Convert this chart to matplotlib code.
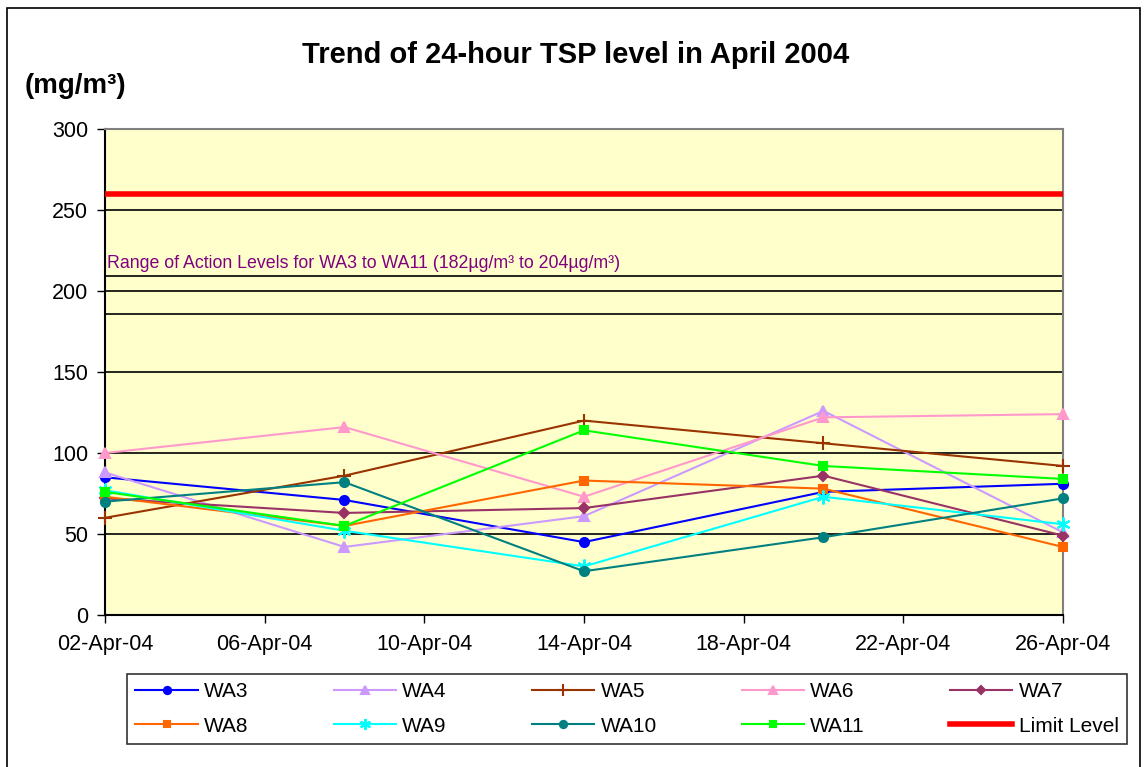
import matplotlib
matplotlib.use('Agg')
import matplotlib.pyplot as plt
import matplotlib.dates as mdates
import matplotlib.patches as patches
import numpy as np
import pandas as pd

plt.rcParams['font.family'] = ['Liberation Sans', 'DejaVu Sans']

# datos
fechas = pd.to_datetime(['2004-04-02', '2004-04-08', '2004-04-14', '2004-04-20', '2004-04-26'])
wa3 = [85, 71, 45, 76, 81]
wa4 = [88, 42, 61, 126, 51]
wa5 = [60, 86, 120, 106, 92]
wa6 = [100, 116, 73, 122, 124]
wa7 = [72, 63, 66, 86, 49]
wa8 = [73, 55, 83, 78, 42]
wa9 = [77, 52, 30, 73, 56]
wa10 = [70, 82, 27, 48, 72]
wa11 = [76, 55, 114, 92, 84]
limite = 260
rango_accion = (186, 209)   # caja dibujada en la figura

series = [
    ('WA3', wa3, '#0000FF', 'o', 6.5),
    ('WA4', wa4, '#CC99FF', '^', 7.5),
    ('WA5', wa5, '#993300', '+', 10),
    ('WA6', wa6, '#FF99CC', '^', 7.5),
    ('WA7', wa7, '#993366', 'D', 5.5),
    ('WA8', wa8, '#FF6600', 's', 5.5),
    ('WA9', wa9, '#00FFFF', (6, 2, 0), 10),
    ('WA10', wa10, '#008080', 'o', 6.5),
    ('WA11', wa11, '#00FF00', 's', 5.5),
]

fig = plt.figure(figsize=(11.48, 7.67), dpi=100)
ax = fig.add_axes([105 / 1148, 1 - 615 / 767, (1063 - 105) / 1148, (615 - 129) / 767])
ax.set_facecolor('#FFFFCC')

x0, x1 = pd.Timestamp('2004-04-02'), pd.Timestamp('2004-04-26')

# lineas de rejilla
for g in [50, 100, 150, 200, 250]:
    ax.axhline(g, color='black', lw=1.2, zorder=1)

# caja del rango de niveles de accion
ax.add_patch(patches.Rectangle((mdates.date2num(x0), rango_accion[0]),
                               mdates.date2num(x1) - mdates.date2num(x0),
                               rango_accion[1] - rango_accion[0],
                               fill=False, edgecolor='black', lw=1.2, zorder=2))
ax.text(mdates.date2num(x0) + 0.05, 212, 'Range of Action Levels for WA3 to WA11 (182µg/m³ to 204µg/m³)',
        color='#800080', fontsize=12.8, family=['Liberation Sans Narrow', 'Liberation Sans', 'DejaVu Sans'],
        va='bottom', ha='left', zorder=3)

handles = {}
for nombre, valores, color, marcador, ms in series:
    h, = ax.plot(fechas, valores, color=color, marker=marcador, ms=ms, lw=1.5,
                 mew=1.5, label=nombre, zorder=4, clip_on=False)
    handles[nombre] = h

h_lim, = ax.plot([x0, x1], [limite, limite], color='#FF0000', lw=4, label='Limit Level', zorder=5)
handles['Limit Level'] = h_lim

ax.set_xlim(x0, x1)
ax.set_ylim(0, 300)
ax.set_yticks(np.arange(0, 301, 50))
ax.xaxis.set_major_locator(mdates.DayLocator(bymonthday=[2, 6, 10, 14, 18, 22, 26]))
ax.xaxis.set_major_formatter(mdates.DateFormatter('%d-%b-%y'))
ax.tick_params(axis='both', direction='out', length=6, width=1, labelsize=15.5, color='black')
ax.tick_params(axis='x', pad=8)
ax.tick_params(axis='y', pad=6)

ax.spines['left'].set_color('black')
ax.spines['bottom'].set_color('black')
ax.spines['top'].set_color('#808080')
ax.spines['right'].set_color('#808080')
for s in ax.spines.values():
    s.set_linewidth(1.5)

fig.text(576 / 1148, 1 - 55 / 767, 'Trend of 24-hour TSP level in April 2004',
         ha='center', va='center', fontsize=21, fontweight='bold')
fig.text(25 / 1148, 1 - 86 / 767, '(mg/m³)', ha='left', va='center', fontsize=20, fontweight='bold')

# leyenda, orden por filas
orden = ['WA3', 'WA8', 'WA4', 'WA9', 'WA5', 'WA10', 'WA6', 'WA11', 'WA7', 'Limit Level']
leg = fig.legend([handles[n] for n in orden], orden, ncol=5, loc='lower left',
                 bbox_to_anchor=(127 / 1148, 1 - 744 / 767, 1000 / 1148, 76 / 767),
                 mode='expand', fontsize=15, frameon=True, fancybox=False,
                 edgecolor='black', handlelength=3.0, handletextpad=0.3,
                 borderaxespad=0, labelspacing=0.75, markerscale=0.8)
leg.get_frame().set_linewidth(1.2)

# borde exterior del grafico
fig.patches.append(patches.Rectangle((7 / 1148, -0.01), 1133 / 1148, 1.0, transform=fig.transFigure,
                                     fill=False, edgecolor='black', lw=1.2))

fig.savefig('out.png', dpi=100)
